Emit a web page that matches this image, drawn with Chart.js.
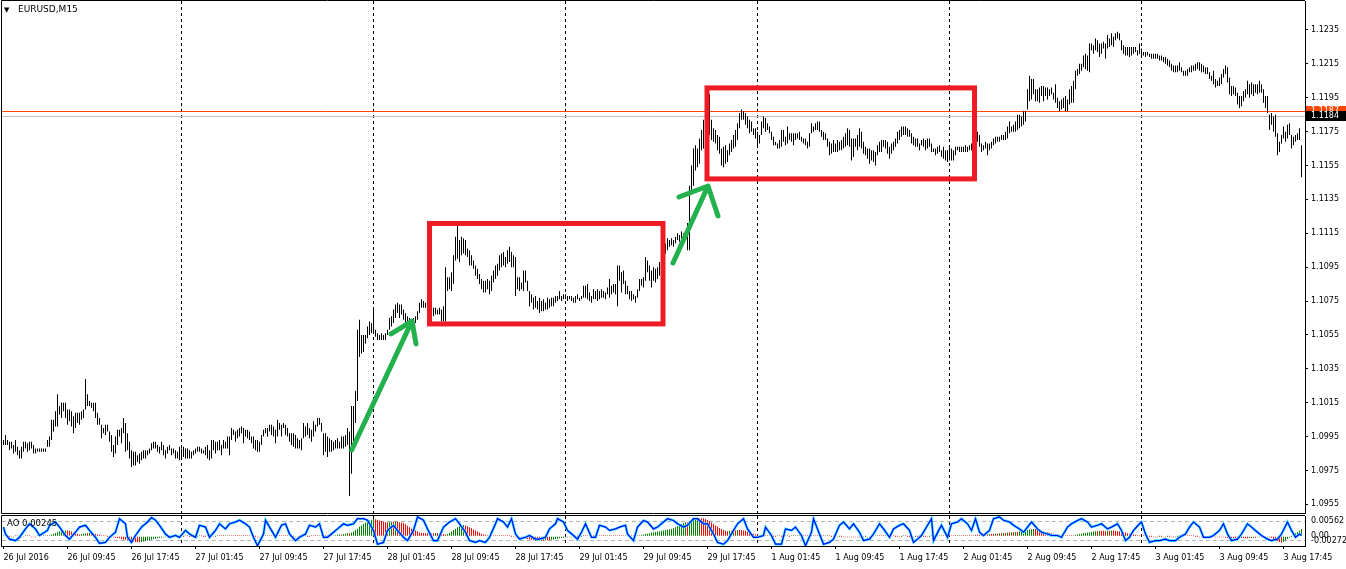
<!DOCTYPE html>
<html>
<head>
<meta charset="utf-8">
<script src="https://cdn.jsdelivr.net/npm/chart.js@4.4.0/dist/chart.umd.min.js"></script>
<style>
  html, body { margin: 0; padding: 0; background: #fff; }
  #wrap { position: relative; width: 1346px; height: 569px; overflow: hidden; }
  #main { position: absolute; left: 0; top: 0; }
  #ind { position: absolute; left: 0; top: 514px; }
</style>
</head>
<body>
<div id="wrap">
  <canvas id="main" width="1346" height="514" style="width:1346px;height:514px"></canvas>
  <canvas id="ind" width="1346" height="55" style="width:1346px;height:55px"></canvas>
</div>
<script>
Chart.defaults.font.family = 'DejaVu Sans';
Chart.defaults.color = '#000';

var symbolTitle = 'EURUSD,M15';
var aoTitle = 'AO 0.00245';

// bottom time axis: one label every 32 bars (8 hours of M15)
var timeLabels = ['26 Jul 2016','26 Jul 09:45','26 Jul 17:45','27 Jul 01:45','27 Jul 09:45','27 Jul 17:45',
  '28 Jul 01:45','28 Jul 09:45','28 Jul 17:45','29 Jul 01:45','29 Jul 09:45','29 Jul 17:45',
  '1 Aug 01:45','1 Aug 09:45','1 Aug 17:45','2 Aug 01:45','2 Aug 09:45','2 Aug 17:45',
  '3 Aug 01:45','3 Aug 09:45','3 Aug 17:45'];
var timeLabelBars = [0,32,64,96,128,160,192,224,256,288,320,352,384,416,448,480,512,544,576,608,640];
var daySeparators = [89,185,281,377,473,569];

var priceTicks = [1.0955,1.0975,1.0995,1.1015,1.1035,1.1055,1.1075,1.1095,1.1115,1.1135,1.1155,1.1175,1.1195,1.1215,1.1235];
var priceMin = 1.09499, priceMax = 1.12521;
var bidLine = 1.1187, lastLine = 1.1184;

// M15 bars, high and low
var barHigh = [
1.0993,1.0996,1.0993,1.0992,1.0992,1.0990,1.0993,1.0989,1.0987,1.0989,
1.0992,1.0992,1.0991,1.0992,1.0992,1.0990,1.0988,1.0988,1.0988,1.0988,
1.0988,1.0988,1.0993,1.0995,1.1005,1.1005,1.1010,1.1020,1.1013,1.1015,
1.1015,1.1015,1.1011,1.1011,1.1010,1.1007,1.1009,1.1009,1.1009,1.1010,
1.1011,1.1029,1.1020,1.1016,1.1015,1.1015,1.1015,1.1009,1.1006,1.1002,
1.1000,1.1002,1.1002,1.0998,1.0996,1.0990,1.0995,1.0999,1.0999,1.1000,
1.1006,1.1003,1.0997,1.0992,1.0987,1.0986,1.0986,1.0984,1.0985,1.0986,
1.0987,1.0987,1.0987,1.0988,1.0991,1.0992,1.0992,1.0990,1.0989,1.0992,
1.0990,1.0987,1.0989,1.0990,1.0988,1.0988,1.0987,1.0986,1.0989,1.0988,
1.0989,1.0988,1.0988,1.0987,1.0986,1.0987,1.0988,1.0989,1.0989,1.0988,
1.0987,1.0989,1.0990,1.0987,1.0993,1.0993,1.0992,1.0992,1.0993,1.0990,
1.0993,1.0992,1.0995,1.0995,1.1000,1.0999,1.0998,1.0999,1.1000,1.1001,
1.1000,1.0999,1.0999,1.0998,1.0995,1.0995,1.0993,1.0993,1.0992,1.0996,
1.0999,1.1000,1.1000,1.1002,1.1002,1.1001,1.0999,1.1005,1.1003,1.1002,
1.1003,1.1002,1.1000,1.0997,1.0997,1.0997,1.0996,1.0994,1.0993,1.0994,
1.1003,1.1001,1.1003,1.1000,1.0999,1.1004,1.1002,1.1006,1.1006,1.1003,
1.0997,1.0997,1.0995,1.0994,1.0993,1.0992,1.0993,1.0994,1.0992,1.0995,
1.0995,1.0996,1.1000,1.0998,1.1013,1.1013,1.1022,1.1058,1.1064,1.1055,
1.1055,1.1055,1.1060,1.1063,1.1062,1.1071,1.1058,1.1056,1.1055,1.1056,
1.1055,1.1056,1.1058,1.1065,1.1066,1.1070,1.1073,1.1074,1.1073,1.1073,
1.1070,1.1068,1.1066,1.1065,1.1064,1.1065,1.1066,1.1069,1.1074,1.1076,
1.1075,1.1074,1.1074,1.1072,1.1072,1.1071,1.1071,1.1070,1.1071,1.1070,
1.1072,1.1095,1.1089,1.1089,1.1092,1.1102,1.1113,1.1120,1.1111,1.1113,
1.1112,1.1111,1.1106,1.1105,1.1102,1.1099,1.1096,1.1094,1.1091,1.1088,
1.1087,1.1087,1.1088,1.1087,1.1090,1.1093,1.1096,1.1097,1.1102,1.1103,
1.1104,1.1101,1.1105,1.1107,1.1104,1.1102,1.1101,1.1089,1.1089,1.1086,
1.1093,1.1093,1.1087,1.1081,1.1079,1.1077,1.1078,1.1075,1.1077,1.1075,
1.1076,1.1074,1.1077,1.1076,1.1077,1.1077,1.1078,1.1078,1.1081,1.1078,
1.1079,1.1079,1.1078,1.1078,1.1078,1.1077,1.1078,1.1079,1.1077,1.1078,
1.1084,1.1084,1.1085,1.1080,1.1078,1.1082,1.1081,1.1082,1.1081,1.1082,
1.1081,1.1080,1.1083,1.1088,1.1084,1.1085,1.1085,1.1096,1.1096,1.1092,
1.1093,1.1087,1.1084,1.1081,1.1081,1.1079,1.1078,1.1082,1.1088,1.1088,
1.1089,1.1101,1.1099,1.1096,1.1093,1.1095,1.1094,1.1095,1.1098,1.1100,
1.1105,1.1109,1.1112,1.1111,1.1112,1.1111,1.1113,1.1115,1.1114,1.1116,
1.1115,1.1116,1.1121,1.1143,1.1155,1.1165,1.1167,1.1165,1.1171,1.1176,
1.1182,1.1185,1.1190,1.1197,1.1182,1.1177,1.1176,1.1173,1.1172,1.1165,
1.1166,1.1167,1.1164,1.1168,1.1170,1.1173,1.1176,1.1180,1.1186,1.1188,
1.1187,1.1186,1.1184,1.1182,1.1181,1.1177,1.1177,1.1175,1.1173,1.1181,
1.1184,1.1183,1.1180,1.1178,1.1175,1.1172,1.1169,1.1168,1.1170,1.1176,
1.1176,1.1172,1.1178,1.1174,1.1174,1.1174,1.1174,1.1174,1.1175,1.1172,
1.1171,1.1171,1.1169,1.1174,1.1180,1.1178,1.1180,1.1181,1.1181,1.1176,
1.1175,1.1174,1.1171,1.1169,1.1168,1.1170,1.1168,1.1170,1.1169,1.1170,
1.1172,1.1174,1.1177,1.1176,1.1171,1.1171,1.1171,1.1173,1.1177,1.1175,
1.1169,1.1166,1.1165,1.1165,1.1164,1.1164,1.1163,1.1167,1.1169,1.1170,
1.1170,1.1170,1.1169,1.1166,1.1168,1.1169,1.1171,1.1175,1.1176,1.1178,
1.1178,1.1178,1.1177,1.1176,1.1174,1.1172,1.1171,1.1171,1.1168,1.1170,
1.1171,1.1170,1.1171,1.1171,1.1168,1.1165,1.1165,1.1166,1.1167,1.1164,
1.1166,1.1164,1.1164,1.1167,1.1165,1.1164,1.1166,1.1166,1.1166,1.1166,
1.1166,1.1167,1.1166,1.1167,1.1168,1.1169,1.1170,1.1175,1.1173,1.1168,
1.1167,1.1169,1.1168,1.1168,1.1169,1.1171,1.1172,1.1172,1.1172,1.1173,
1.1173,1.1175,1.1178,1.1181,1.1178,1.1179,1.1181,1.1185,1.1185,1.1184,
1.1187,1.1187,1.1200,1.1208,1.1206,1.1206,1.1200,1.1200,1.1201,1.1202,
1.1202,1.1201,1.1201,1.1200,1.1201,1.1198,1.1203,1.1195,1.1193,1.1194,
1.1195,1.1196,1.1194,1.1200,1.1202,1.1205,1.1211,1.1212,1.1215,1.1215,
1.1220,1.1221,1.1220,1.1227,1.1227,1.1226,1.1230,1.1229,1.1227,1.1227,
1.1228,1.1227,1.1232,1.1230,1.1233,1.1231,1.1233,1.1234,1.1233,1.1229,
1.1226,1.1225,1.1225,1.1225,1.1225,1.1225,1.1225,1.1223,1.1227,1.1224,
1.1222,1.1222,1.1222,1.1221,1.1221,1.1221,1.1221,1.1221,1.1220,1.1220,
1.1219,1.1219,1.1218,1.1217,1.1215,1.1214,1.1214,1.1214,1.1216,1.1213,
1.1211,1.1211,1.1212,1.1213,1.1214,1.1214,1.1215,1.1216,1.1216,1.1215,
1.1214,1.1213,1.1213,1.1210,1.1208,1.1211,1.1206,1.1205,1.1207,1.1209,
1.1212,1.1214,1.1213,1.1207,1.1202,1.1202,1.1201,1.1198,1.1196,1.1196,
1.1199,1.1200,1.1205,1.1203,1.1204,1.1203,1.1203,1.1203,1.1205,1.1203,
1.1200,1.1196,1.1196,1.1185,1.1186,1.1184,1.1185,1.1174,1.1169,1.1173,
1.1178,1.1175,1.1179,1.1180,1.1173,1.1172,1.1173,1.1174,1.1177,1.1167
];
var barLow = [
1.0990,1.0990,1.0990,1.0987,1.0988,1.0985,1.0986,1.0984,1.0982,1.0982,
1.0986,1.0988,1.0986,1.0987,1.0988,1.0985,1.0985,1.0986,1.0986,1.0986,
1.0986,1.0986,1.0989,1.0989,1.0993,1.0998,1.1001,1.1001,1.1008,1.1006,
1.1010,1.1006,1.1002,1.1004,1.1001,1.0997,1.1000,1.1003,1.1002,1.1005,
1.1006,1.1011,1.1013,1.1013,1.1012,1.1010,1.1006,1.1002,1.1002,1.0994,
1.0997,1.0996,1.0998,1.0992,1.0986,1.0983,1.0985,1.0990,1.0995,1.0991,
1.0997,1.0986,1.0987,1.0982,1.0977,1.0978,1.0978,1.0980,1.0979,1.0981,
1.0982,1.0982,1.0984,1.0985,1.0987,1.0988,1.0988,1.0986,1.0985,1.0987,
1.0984,1.0982,1.0985,1.0987,1.0984,1.0985,1.0982,1.0982,1.0981,1.0982,
1.0983,1.0982,1.0982,1.0982,1.0982,1.0984,1.0985,1.0986,1.0986,1.0985,
1.0985,1.0984,1.0982,1.0981,1.0982,1.0987,1.0985,1.0987,1.0987,1.0984,
1.0988,1.0988,1.0988,1.0984,1.0993,1.0996,1.0992,1.0994,1.0995,1.0997,
1.0991,1.0995,1.0994,1.0993,1.0991,1.0988,1.0987,1.0986,1.0986,1.0990,
1.0995,1.0997,1.0995,1.0998,1.0996,1.0995,1.0991,1.0995,1.0999,1.0995,
1.1000,1.0996,1.0995,1.0992,1.0990,1.0989,1.0988,1.0988,1.0988,1.0987,
1.0994,1.0995,1.0996,1.0994,1.0992,1.0995,1.0998,1.1001,1.1002,1.0998,
1.0984,1.0986,1.0983,1.0986,1.0986,1.0987,1.0988,1.0988,1.0988,1.0988,
1.0988,1.0989,1.0990,1.0960,1.0973,1.0989,1.1003,1.1016,1.1042,1.1044,
1.1045,1.1050,1.1053,1.1055,1.1056,1.1056,1.1054,1.1052,1.1052,1.1052,
1.1052,1.1052,1.1055,1.1058,1.1060,1.1062,1.1065,1.1068,1.1065,1.1067,
1.1064,1.1062,1.1062,1.1062,1.1062,1.1062,1.1062,1.1064,1.1068,1.1071,
1.1071,1.1071,1.1070,1.1068,1.1067,1.1066,1.1067,1.1067,1.1067,1.1063,
1.1063,1.1063,1.1081,1.1082,1.1081,1.1085,1.1099,1.1100,1.1098,1.1102,
1.1103,1.1102,1.1101,1.1096,1.1096,1.1094,1.1090,1.1088,1.1085,1.1082,
1.1080,1.1080,1.1082,1.1079,1.1081,1.1086,1.1088,1.1090,1.1093,1.1095,
1.1096,1.1095,1.1097,1.1098,1.1095,1.1095,1.1078,1.1082,1.1081,1.1082,
1.1081,1.1086,1.1081,1.1072,1.1074,1.1070,1.1071,1.1070,1.1068,1.1069,
1.1069,1.1070,1.1070,1.1071,1.1072,1.1072,1.1074,1.1075,1.1076,1.1075,
1.1076,1.1076,1.1075,1.1076,1.1075,1.1074,1.1074,1.1076,1.1075,1.1076,
1.1077,1.1077,1.1076,1.1075,1.1074,1.1076,1.1076,1.1075,1.1076,1.1077,
1.1077,1.1076,1.1079,1.1077,1.1079,1.1080,1.1079,1.1072,1.1087,1.1080,
1.1085,1.1079,1.1079,1.1076,1.1075,1.1076,1.1074,1.1077,1.1081,1.1084,
1.1083,1.1087,1.1092,1.1087,1.1083,1.1087,1.1086,1.1088,1.1090,1.1092,
1.1096,1.1103,1.1105,1.1107,1.1108,1.1107,1.1109,1.1111,1.1110,1.1112,
1.1111,1.1112,1.1105,1.1105,1.1140,1.1143,1.1152,1.1154,1.1156,1.1164,
1.1165,1.1172,1.1175,1.1173,1.1170,1.1169,1.1168,1.1164,1.1162,1.1155,
1.1154,1.1156,1.1157,1.1161,1.1163,1.1165,1.1166,1.1170,1.1177,1.1182,
1.1182,1.1179,1.1177,1.1174,1.1175,1.1173,1.1171,1.1166,1.1168,1.1173,
1.1177,1.1175,1.1176,1.1174,1.1170,1.1167,1.1167,1.1165,1.1165,1.1166,
1.1169,1.1167,1.1168,1.1170,1.1169,1.1167,1.1170,1.1171,1.1170,1.1169,
1.1168,1.1167,1.1165,1.1166,1.1174,1.1175,1.1176,1.1176,1.1175,1.1172,
1.1170,1.1170,1.1166,1.1161,1.1162,1.1163,1.1163,1.1163,1.1164,1.1164,
1.1165,1.1166,1.1167,1.1166,1.1158,1.1160,1.1166,1.1164,1.1166,1.1165,
1.1162,1.1161,1.1159,1.1156,1.1158,1.1157,1.1155,1.1161,1.1163,1.1163,
1.1166,1.1165,1.1162,1.1159,1.1162,1.1164,1.1166,1.1168,1.1170,1.1172,
1.1173,1.1173,1.1172,1.1172,1.1168,1.1167,1.1166,1.1166,1.1164,1.1167,
1.1166,1.1164,1.1165,1.1166,1.1163,1.1163,1.1161,1.1162,1.1163,1.1160,
1.1159,1.1158,1.1157,1.1158,1.1158,1.1158,1.1161,1.1164,1.1163,1.1163,
1.1163,1.1163,1.1163,1.1164,1.1164,1.1165,1.1166,1.1169,1.1166,1.1163,
1.1164,1.1165,1.1161,1.1164,1.1165,1.1167,1.1168,1.1169,1.1169,1.1170,
1.1170,1.1170,1.1171,1.1174,1.1175,1.1175,1.1175,1.1176,1.1177,1.1178,
1.1179,1.1181,1.1188,1.1193,1.1194,1.1197,1.1193,1.1193,1.1192,1.1196,
1.1193,1.1196,1.1194,1.1196,1.1197,1.1194,1.1192,1.1189,1.1187,1.1188,
1.1189,1.1187,1.1187,1.1191,1.1192,1.1192,1.1200,1.1208,1.1209,1.1211,
1.1213,1.1212,1.1211,1.1210,1.1223,1.1221,1.1223,1.1222,1.1219,1.1221,
1.1224,1.1218,1.1224,1.1225,1.1226,1.1225,1.1229,1.1230,1.1229,1.1223,
1.1221,1.1220,1.1220,1.1219,1.1220,1.1221,1.1222,1.1220,1.1221,1.1220,
1.1220,1.1219,1.1220,1.1219,1.1218,1.1218,1.1218,1.1218,1.1217,1.1217,
1.1216,1.1215,1.1214,1.1213,1.1211,1.1210,1.1210,1.1210,1.1211,1.1210,
1.1208,1.1208,1.1208,1.1210,1.1210,1.1211,1.1211,1.1212,1.1211,1.1210,
1.1210,1.1209,1.1209,1.1206,1.1205,1.1203,1.1201,1.1202,1.1202,1.1203,
1.1207,1.1209,1.1204,1.1197,1.1196,1.1197,1.1196,1.1191,1.1189,1.1190,
1.1193,1.1195,1.1197,1.1195,1.1197,1.1196,1.1198,1.1197,1.1198,1.1198,
1.1192,1.1189,1.1186,1.1176,1.1179,1.1175,1.1172,1.1161,1.1163,1.1168,
1.1171,1.1169,1.1171,1.1173,1.1165,1.1167,1.1169,1.1170,1.1170,1.1148
];

// Awesome Oscillator per bar, in units of 0.0001
var aoUnit = 0.0001;
var aoMin = -0.00272, aoMax = 0.00562;
var aoValues = [
1,1,1,0,-1,-1,1,1,1,-1,-1,1,1,1,-1,-1,-1,1,1,1,1,2,2,
3,5,7,9,11,13,14,15,16,16,
15,13,11,9,7,5,
6,7,8,8,9,8,7,
6,5,4,3,2,1,0,-1,-2,-3,
-4,-5,-6,-8,-9,-10,-12,-13,
-14,-15,-16,-17,-17,
-16,-15,-14,-12,-11,-10,-8,-7,-6,-5,-4,-3,
-2,-2,-1,-1,0,0,-1,-1,0,
0,1,1,0,0,-1,-1,0,1,1,0,0,1,1,0,-1,0,1,1,1,
1,2,2,2,3,3,3,3,3,3,
2,2,1,1,1,0,
0,-1,-1,0,1,1,
2,2,2,3,3,3,3,2,2,2,
1,1,0,0,-1,-1,0,0,1,1,0,0,1,1,
1,1,2,2,2,2,2,1,1,2,
3,4,5,5,6,7,8,8,10,
13,17,21,26,30,34,38,41,44,46,48,
47,46,44,42,40,39,38,
39,40,40,41,40,39,38,37,
33,29,25,21,18,16,14,
10,9,9,8,8,8,8,8,9,9,8,7,
6,5,6,9,13,
17,21,25,28,30,31,30,
28,25,22,19,16,13,10,7,5,
4,3,3,3,2,2,3,3,3,2,2,2,1,0,-1,-2,
-3,-4,-5,-6,-7,-8,-9,-10,-11,-12,-12,-12,-12,-12,-11,-11,-11,
-10,-9,-8,-7,-6,-5,-4,-3,
-2,-2,-1,-1,0,0,-1,0,1,
1,1,2,2,1,1,2,2,1,1,1,2,2,2,3,3,2,2,1,1,2,2,2,1,1,2,3,3,
4,5,6,7,8,10,11,12,13,14,15,16,17,18,19,20,22,
25,28,31,34,37,39,38,40,43,46,
48,49,50,50,50,48,
45,42,38,34,30,27,23,20,17,15,
14,15,15,16,16,17,17,17,16,15,
13,11,9,7,5,
4,3,3,2,2,1,1,1,0,0,1,1,0,0,1,1,0,
1,2,2,3,3,2,2,1,1,2,2,3,3,2,1,1,1,2,2,1,0,0,-1,-1,0,
0,-1,-1,-2,-2,-2,-1,-1,-2,-2,-1,-1,0,-1,-1,0,
1,1,2,2,2,3,3,2,2,
1,1,0,0,-1,0,1,1,0,0,-1,-1,0,0,1,1,0,0,-1,0,1,1,0,1,1,2,2,
2,2,3,3,3,2,2,3,3,3,3,3,3,3,
3,4,4,4,5,5,5,5,6,6,6,7,7,
8,8,9,9,10,10,11,11,12,12,13,
14,15,16,17,18,19,20,20,
19,17,15,14,12,11,10,8,7,6,
5,4,4,3,3,2,2,2,
3,4,5,6,7,8,9,10,11,
12,13,14,14,15,15,15,14,15,15,16,16,15,14,14,13,
12,10,8,7,6,5,4,
3,3,2,2,1,1,0,
0,-1,-1,-1,0,0,-1,-1,0,0,-1,-1,-1,0,1,1,2,2,2,2,1,1,0,0,-1,-1,0,-1,-1,0,0,-1,-1,-2,-2,-3,
-3,-4,-4,-5,-5,-5,-6,-6,-6,-5,-5,-6,-6,-5,
-5,-4,-4,-3,-3,-2,-2,-1,-1,-2,
-5,-8,-11,-14,-16,-18,
-16,-12,-8,-4,0,4,8,12,16,20
];

// oscillator line (0..100) read at these bars
var stochLevels = [80, 20];
var stochBars = [
0,1,3,6,8,11,13,16,18,22,23,26,28,31,33,36,38,41,43,46,48,51,53,56,58,61,62,64,66,69,72,74,76,78,
81,83,86,88,91,93,96,98,101,103,106,108,111,113,116,118,121,123,125,127,130,131,134,136,139,141,
143,146,148,151,153,156,158,160,162,165,167,170,172,175,177,180,182,185,187,190,192,195,197,200,
202,205,207,210,212,215,217,220,222,
223,226,228,231,233,236,238,241,243,246,247,250,252,254,256,258,261,263,266,268,271,273,276,277,
280,282,285,287,289,291,294,296,298,301,303,306,308,311,312,315,317,320,322,325,327,330,332,335,
337,340,342,345,347,350,352,355,357,360,362,365,367,370,372,375,377,380,381,384,386,389,391,394,
396,399,401,404,405,408,410,413,415,418,420,423,425,428,430,433,435,438,440,
443,445,448,450,453,455,457,459,462,464,465,468,469,472,474,477,479,482,484,486,488,490,493,495,
498,500,503,505,508,510,512,514,517,519,522,524,527,529,532,534,537,539,542,544,547,549,552,554,
557,559,561,563,565,568,569,571,573,576,578,581,583,586,588,591,593,595,598,600,603,605,608,610,
612,614,617,619,622,624,627,629,632,634,637,639,642,644,646,648,649
];
var stochValues = [
63,40,23,18,29,57,74,57,35,52,69,80,63,35,23,46,63,69,52,29,9,12,29,46,91,74,29,12,35,63,80,95,86,69,
40,29,35,29,52,40,29,69,63,29,52,74,57,74,80,86,74,63,29,1,40,86,52,29,69,74,
40,18,29,40,69,63,74,29,29,46,57,74,69,74,91,91,86,52,6,12,52,69,52,29,
18,52,97,86,57,18,18,63,74,
80,91,74,46,18,12,18,12,29,74,91,80,63,91,40,23,29,35,23,23,29,57,74,91,
80,52,35,23,46,74,29,29,69,63,52,57,63,69,40,18,63,85,80,57,63,80,91,85,
74,63,69,91,91,74,74,40,12,6,18,52,74,91,57,29,29,35,63,35,6,6,57,52,
63,35,1,46,91,40,6,12,23,69,80,57,74,46,18,23,40,74,57,
29,57,69,74,52,12,23,35,69,91,18,57,69,29,74,80,91,74,52,91,46,35,52,91,
97,86,80,69,57,46,63,80,57,46,40,35,35,29,63,74,85,91,80,63,69,74,57,63,
74,52,18,29,52,74,80,40,12,18,18,23,18,18,29,40,63,80,63,29,29,35,52,74,
40,18,23,40,74,63,46,35,23,18,23,40,80,52,29,40,35
];

// drawn annotations (bar index, price)
var boxBars = [[213, 329.75], [351.75, 485.5]];
var boxPrices = [[1.11208, 1.10615], [1.12008, 1.11471]];
var arrowFrom = [[174.1, 1.09871], [334.75, 1.10975]];
var arrowTo = [[204.25, 1.10632], [352.25, 1.11429]];
var arrowWings = [[[193.75, 1.10556], [206.25, 1.10497]], [[337.75, 1.11364], [357.25, 1.11252]]];

var xMin = -0.75, xMax = 650.75;

function drawSeparators(chart) {
  var ctx = chart.ctx, a = chart.chartArea, xs = chart.scales.x;
  ctx.save();
  ctx.strokeStyle = '#000';
  ctx.lineWidth = 1;
  ctx.setLineDash([3, 3]);
  daySeparators.forEach(function (b) {
    var x = Math.floor(xs.getPixelForValue(b)) + 0.5;
    ctx.beginPath();
    ctx.moveTo(x, a.top);
    ctx.lineTo(x, a.bottom);
    ctx.stroke();
  });
  ctx.restore();
}

function drawFrame(chart) {
  var ctx = chart.ctx, a = chart.chartArea;
  ctx.save();
  ctx.strokeStyle = '#000';
  ctx.lineWidth = 1;
  ctx.beginPath();
  ctx.moveTo(a.left - 0.5, a.bottom + 0.5);
  ctx.lineTo(a.left - 0.5, a.top - 0.5);
  ctx.lineTo(a.right, a.top - 0.5);
  ctx.moveTo(a.left - 0.5, a.bottom + 0.5);
  ctx.lineTo(a.right, a.bottom + 0.5);
  ctx.stroke();
  ctx.restore();
}

var mainPlugin = {
  id: 'mainExtras',
  beforeDatasetsDraw: function (chart) {
    var ctx = chart.ctx, a = chart.chartArea, ys = chart.scales.y;
    drawSeparators(chart);
    ctx.save();
    ctx.lineWidth = 1;
    var yb = Math.floor(ys.getPixelForValue(bidLine)) + 0.5;
    var yl = Math.floor(ys.getPixelForValue(lastLine)) + 0.5;
    ctx.strokeStyle = '#C0C0C0';
    ctx.beginPath(); ctx.moveTo(a.left, yl); ctx.lineTo(a.right, yl); ctx.stroke();
    ctx.strokeStyle = '#FF4500';
    ctx.beginPath(); ctx.moveTo(a.left, yb); ctx.lineTo(a.right, yb); ctx.stroke();
    ctx.restore();
  },
  afterDatasetsDraw: function (chart) {
    var ctx = chart.ctx, xs = chart.scales.x, ys = chart.scales.y;
    function px(p) { return [xs.getPixelForValue(p[0]), ys.getPixelForValue(p[1])]; }
    ctx.save();
    ctx.strokeStyle = '#ED1C24';
    ctx.lineWidth = 5;
    boxBars.forEach(function (bx, k) {
      var x1 = xs.getPixelForValue(bx[0]), x2 = xs.getPixelForValue(bx[1]);
      var y1 = ys.getPixelForValue(boxPrices[k][0]), y2 = ys.getPixelForValue(boxPrices[k][1]);
      ctx.strokeRect(x1, y1, x2 - x1, y2 - y1);
    });
    ctx.strokeStyle = '#22B14C';
    ctx.lineCap = 'round';
    ctx.lineJoin = 'round';
    arrowTo.forEach(function (tip, k) {
      var t = px(tip), f = px(arrowFrom[k]), w1 = px(arrowWings[k][0]), w2 = px(arrowWings[k][1]);
      ctx.beginPath();
      ctx.moveTo(f[0], f[1]); ctx.lineTo(t[0], t[1]);
      ctx.moveTo(w1[0], w1[1]); ctx.lineTo(t[0], t[1]); ctx.lineTo(w2[0], w2[1]);
      ctx.stroke();
    });
    ctx.restore();
  },
  afterDraw: function (chart) {
    var ctx = chart.ctx, a = chart.chartArea, ys = chart.scales.y;
    drawFrame(chart);
    ctx.save();
    // price labels on the right scale
    ctx.font = '8px "DejaVu Sans"';
    ctx.textBaseline = 'middle';
    var yb = ys.getPixelForValue(bidLine), yl = ys.getPixelForValue(lastLine);
    ctx.fillStyle = '#FF4500';
    ctx.fillRect(a.right + 1, Math.round(yb) - 5, 1346 - a.right, 10);
    ctx.fillStyle = '#fff';
    ctx.fillText(bidLine.toFixed(4), a.right + 6, yb);
    ctx.fillStyle = '#000';
    ctx.fillRect(a.right + 1, Math.round(yl) - 5, 1346 - a.right, 10);
    ctx.fillStyle = '#fff';
    ctx.fillText(lastLine.toFixed(4), a.right + 6, yl);
    // title
    ctx.fillStyle = '#000';
    ctx.font = '7px "DejaVu Sans"';
    ctx.fillText('\u25BC', a.left + 2, a.top + 9);
    ctx.font = '9px "DejaVu Sans"';
    ctx.fillText(symbolTitle, a.left + 16, a.top + 9);
    ctx.restore();
  }
};

new Chart(document.getElementById('main'), {
  type: 'bar',
  data: {
    datasets: [{
      data: barHigh.map(function (h, i) { return { x: i, y: [barLow[i], h] }; }),
      backgroundColor: '#000',
      borderWidth: 0,
      barThickness: 1,
      inflateAmount: 0
    }]
  },
  options: {
    responsive: false,
    animation: false,
    events: [],
    layout: { padding: { left: 2, top: 1, bottom: 1, right: 0 } },
    plugins: { legend: { display: false }, tooltip: { enabled: false } },
    scales: {
      x: { type: 'linear', min: xMin, max: xMax, offset: false, display: false },
      y: {
        position: 'right',
        min: priceMin,
        max: priceMax,
        afterFit: function (s) { s.width = 41; s.paddingTop = 0; s.paddingBottom = 0; },
        afterBuildTicks: function (s) { s.ticks = priceTicks.map(function (v) { return { value: v }; }); },
        ticks: {
          autoSkip: false,
          padding: 3,
          color: '#000',
          font: { family: 'DejaVu Sans', size: 8 },
          callback: function (v) { return v.toFixed(4); }
        },
        grid: { drawOnChartArea: false, drawTicks: true, tickLength: 3, color: '#000' },
        border: { color: '#000' }
      }
    }
  },
  plugins: [mainPlugin]
});

// AO bar is green when it rises above the previous bar, red otherwise
var aoRising = aoValues.map(function (v, i) { return i === 0 || v > aoValues[i - 1]; });
var aoUp = aoValues.map(function (v, i) { return { x: i, y: aoRising[i] ? v * aoUnit : null }; });
var aoDown = aoValues.map(function (v, i) { return { x: i, y: aoRising[i] ? null : v * aoUnit }; });
var stochPoints = stochBars.map(function (b, i) { return { x: b, y: stochValues[i] }; });

var indPlugin = {
  id: 'indExtras',
  beforeDatasetsDraw: function (chart) { drawSeparators(chart); },
  afterDraw: function (chart) {
    var ctx = chart.ctx, a = chart.chartArea;
    drawFrame(chart);
    ctx.save();
    ctx.fillStyle = '#000';
    ctx.font = '8.5px "DejaVu Sans"';
    ctx.textBaseline = 'middle';
    ctx.fillText(aoTitle, a.left + 5, a.top + 8);
    ctx.restore();
  }
};

var aoBarStyle = { type: 'bar', yAxisID: 'ao', borderWidth: 0, grouped: false, maxBarThickness: 1, inflateAmount: 0, minBarLength: 1, order: 3 };

new Chart(document.getElementById('ind'), {
  type: 'bar',
  data: {
    datasets: [
      Object.assign({ data: aoUp, backgroundColor: '#008000' }, aoBarStyle),
      Object.assign({ data: aoDown, backgroundColor: '#FF0000' }, aoBarStyle),
      {
        type: 'line',
        yAxisID: 'st',
        data: stochPoints,
        borderColor: '#33E6FF',
        backgroundColor: '#33E6FF',
        borderWidth: 2.6,
        pointRadius: 0,
        tension: 0,
        order: 2
      },
      {
        type: 'line',
        yAxisID: 'st',
        data: stochPoints,
        borderColor: '#0000FF',
        backgroundColor: '#0000FF',
        borderWidth: 1.2,
        pointRadius: 0,
        tension: 0,
        order: 1
      }
    ]
  },
  options: {
    responsive: false,
    animation: false,
    events: [],
    layout: { padding: { left: 2, top: 2, bottom: 0, right: 0 } },
    plugins: { legend: { display: false }, tooltip: { enabled: false } },
    scales: {
      x: {
        type: 'linear',
        min: xMin,
        max: xMax,
        offset: false,
        afterFit: function (s) { s.height = 23; s.paddingLeft = 0; s.paddingRight = 0; },
        afterBuildTicks: function (s) { s.ticks = timeLabelBars.map(function (v) { return { value: v }; }); },
        ticks: {
          autoSkip: false,
          maxRotation: 0,
          align: 'start',
          padding: 4,
          color: '#000',
          font: { family: 'DejaVu Sans', size: 8 },
          callback: function (v, i) { return timeLabels[i]; }
        },
        grid: { drawOnChartArea: false, drawTicks: true, tickLength: 3, color: '#000', offset: false },
        border: { color: '#000' }
      },
      st: {
        position: 'right',
        weight: 0,
        min: 0,
        max: 100,
        afterFit: function (s) { s.width = 0; s.paddingTop = 0; s.paddingBottom = 0; },
        afterBuildTicks: function (s) { s.ticks = stochLevels.map(function (v) { return { value: v }; }); },
        ticks: { autoSkip: false, padding: 6, color: '#000', font: { family: 'DejaVu Sans', size: 8 } },
        grid: { drawOnChartArea: true, drawTicks: false, color: '#B4B4B4' },
        border: { display: false, dash: [4, 3] }
      },
      ao: {
        position: 'right',
        weight: 1,
        min: aoMin,
        max: aoMax,
        afterFit: function (s) { s.width = 41; s.paddingTop = 0; s.paddingBottom = 0; },
        afterBuildTicks: function (s) { s.ticks = [aoMax, 0, aoMin].map(function (v) { return { value: v }; }); },
        ticks: {
          autoSkip: false,
          padding: 6,
          color: '#000',
          font: { family: 'DejaVu Sans', size: 8 },
          // top label sits just below the window top, bottom label just above the bottom
          callback: function (v) {
            if (v === 0) return '0.00';
            return v > 0 ? ['', v.toFixed(5)] : [v.toFixed(5), ''];
          }
        },
        grid: { drawOnChartArea: false, drawTicks: false },
        border: { color: '#000' }
      }
    }
  },
  plugins: [indPlugin]
});
</script>
</body>
</html>
